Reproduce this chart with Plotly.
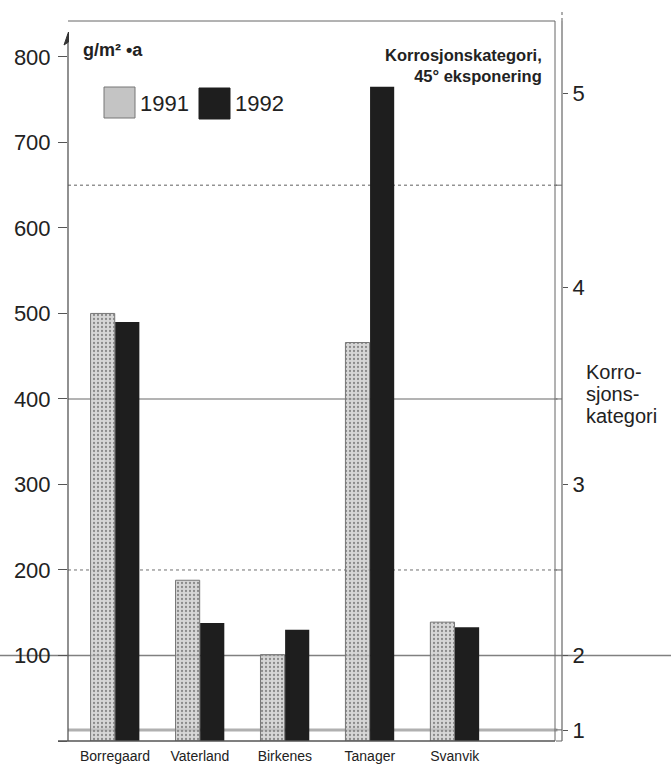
import plotly.graph_objects as go

# ---------------- data ----------------
sites = ["Borregaard", "Vaterland", "Birkenes", "Tanager", "Svanvik"]
corrosion_1991 = [500, 188, 101, 466, 139]
corrosion_1992 = [490, 138, 130, 765, 133]
left_ticks = [0, 100, 200, 300, 400, 500, 600, 700, 800]
left_ticktext = ["", "100", "200", "300", "400", "500", "600", "700", "800"]
category_boundaries = [13, 200, 400, 650]
category_tick_values = [12, 100, 300, 530, 757]
category_labels = ["1", "2", "3", "4", "5"]

YMAX = 842
FONT = "Liberation Sans, Arial, sans-serif"
W, H = 671, 764
ML, MR, MT, MB = 68, 109, 21, 23
PW = W - ML - MR          # plot width (to right axis)
PH = H - MT - MB
FRAME_R = 555             # inner frame right edge (px)


def px(xp):
    return (xp - ML) / PW


def py(yp):
    return (H - MB - yp) / PH


def vy(v):
    return v / YMAX


fig = go.Figure()

fig.add_trace(go.Bar(
    x=sites, y=corrosion_1991, name="1991",
    marker=dict(color="rgba(196,196,196,0.78)",
                line=dict(color="#777", width=1),
                pattern=dict(shape=".", fillmode="replace",
                             bgcolor="rgba(200,200,200,0.75)",
                             fgcolor="#8a8a8a", size=4, solidity=0.25)),
    showlegend=False))
fig.add_trace(go.Bar(
    x=sites, y=corrosion_1992, name="1992",
    marker=dict(color="#1e1e1e", line=dict(width=0)),
    showlegend=False))
fig.add_trace(go.Scatter(x=[None], y=[None], yaxis="y2", showlegend=False,
                         hoverinfo="skip"))

shapes = []
GX0, GX1 = px(ML), px(FRAME_R)
styles = {
    13: dict(color="#b0b0b0", width=3, dash="solid"),
    200: dict(color="#707070", width=1, dash="dot"),
    400: dict(color="#9a9a9a", width=1.5, dash="solid"),
    650: dict(color="#606060", width=1, dash="dot"),
}
for b in category_boundaries:
    shapes.append(dict(type="line", xref="paper", yref="paper",
                       x0=GX0, x1=GX1 + 0.005, y0=vy(b), y1=vy(b),
                       line=styles[b], layer="below"))
shapes.append(dict(type="line", xref="paper", yref="paper",
                   x0=px(0), x1=px(W), y0=vy(100), y1=vy(100),
                   line=dict(color="#808080", width=1.5), layer="below"))
shapes.append(dict(type="line", xref="paper", yref="paper",
                   x0=px(ML), x1=px(FRAME_R), y0=1, y1=1,
                   line=dict(color="#666", width=1)))
shapes.append(dict(type="line", xref="paper", yref="paper",
                   x0=px(FRAME_R), x1=px(FRAME_R), y0=0, y1=1,
                   line=dict(color="#666", width=1)))
shapes.append(dict(type="line", xref="paper", yref="paper",
                   x0=0, x1=0, y0=0, y1=py(34),
                   line=dict(color="#555", width=1.3)))
shapes.append(dict(type="path", xref="paper", yref="paper",
                   path=f"M {px(68.5)} {py(32)} L {px(64)} {py(45)} L {px(68.5)} {py(42)} Z",
                   fillcolor="#333", line=dict(color="#333", width=1)))
shapes.append(dict(type="line", xref="paper", yref="paper",
                   x0=px(58), x1=px(FRAME_R), y0=0, y1=0,
                   line=dict(color="#555", width=1.3)))
shapes.append(dict(type="line", xref="paper", yref="paper",
                   x0=1, x1=1, y0=0, y1=1,
                   line=dict(color="#666", width=1.2)))
shapes.append(dict(type="line", xref="paper", yref="paper",
                   x0=1, x1=1, y0=1, y1=py(12),
                   line=dict(color="#777", width=1.2, dash="dot")))
for b in [0] + category_boundaries:
    shapes.append(dict(type="line", xref="paper", yref="paper",
                       x0=px(FRAME_R + 1), x1=1, y0=vy(b), y1=vy(b),
                       line=dict(color="#666", width=1)))

shapes.append(dict(type="rect", xref="paper", yref="paper",
                   x0=px(104), x1=px(135), y0=py(118), y1=py(87),
                   fillcolor="#c4c4c4", line=dict(color="#777", width=1)))
shapes.append(dict(type="rect", xref="paper", yref="paper",
                   x0=px(199), x1=px(230), y0=py(119), y1=py(88),
                   fillcolor="#1e1e1e", line=dict(color="#1e1e1e", width=1)))

annotations = [
    dict(text="g/m² •a", x=px(81), y=py(50), xanchor="left", yanchor="middle",
         font=dict(size=18, color="#222", family=FONT, weight="bold")),
    dict(text="1991", x=px(138), y=py(103), xanchor="left", yanchor="middle",
         font=dict(size=22, color="#222", family=FONT)),
    dict(text="1992", x=px(233), y=py(103), xanchor="left", yanchor="middle",
         font=dict(size=22, color="#222", family=FONT)),
    dict(text="Korrosjonskategori,<br>45° eksponering", x=px(544), y=py(65),
         xanchor="right", yanchor="middle", align="right",
         font=dict(size=16.5, color="#222", family=FONT, weight="bold")),
    dict(text="Korro-", x=px(584), y=py(372), xanchor="left", yanchor="middle",
         font=dict(size=20, color="#222", family=FONT)),
    dict(text="sjons-", x=px(584), y=py(394), xanchor="left", yanchor="middle",
         font=dict(size=20, color="#222", family=FONT)),
    dict(text="kategori", x=px(584), y=py(416), xanchor="left", yanchor="middle",
         font=dict(size=20, color="#222", family=FONT)),
]
for a in annotations:
    a.update(xref="paper", yref="paper", showarrow=False)

fig.update_layout(
    width=W, height=H,
    margin=dict(l=ML, r=MR, t=MT, b=MB, autoexpand=False),
    paper_bgcolor="white", plot_bgcolor="rgba(0,0,0,0)",
    barmode="group", bargap=0.42, bargroupgap=0.02,
    font=dict(family=FONT, color="#222"),
    xaxis=dict(domain=[0, px(FRAME_R)], range=[-0.553, 5.18],
               showline=False, showgrid=False, zeroline=False, ticks="",
               tickfont=dict(size=14, color="#222"), ticklabelstandoff=5,
               automargin=False),
    yaxis=dict(range=[0, YMAX], tickvals=left_ticks, ticktext=left_ticktext,
               showline=False, showgrid=False, zeroline=False,
               ticks="outside", ticklen=9, tickcolor="#555", tickwidth=1.2,
               tickfont=dict(size=22, color="#222"), ticklabelstandoff=3,
               automargin=False),
    yaxis2=dict(range=[0, YMAX], overlaying="y", side="right", anchor="free",
                position=1, tickvals=category_tick_values, ticktext=category_labels,
                showline=False, showgrid=False, zeroline=False,
                ticks="outside", ticklen=5, tickcolor="#555",
                tickfont=dict(size=22, color="#222"), automargin=False),
    shapes=shapes, annotations=annotations,
)

fig.write_html("out.html", config={"displayModeBar": False},
               post_script="document.body.style.margin='0';document.body.style.overflow='hidden';")
